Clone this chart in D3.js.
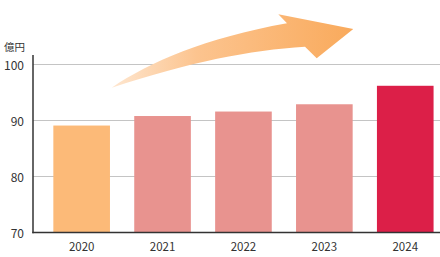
<!DOCTYPE html>
<html><head><meta charset="utf-8">
<script src="https://cdn.jsdelivr.net/npm/d3@7"></script>
<style>html,body{margin:0;padding:0;background:#fff;}svg{display:block;}</style>
</head><body>
<svg id="c" width="440" height="257"></svg>
<script>
const years = ["2020","2021","2022","2023","2024"];
const values = [89.1, 90.8, 91.6, 92.9, 96.2];
const barColors = ["#fcba78","#e8938f","#e8938f","#e8938f","#dc1f48"];
const yTicks = [70, 80, 90, 100];
const unitLabel = "億円";

const svg = d3.select("#c");
const font = "'Noto Sans CJK JP','Noto Sans',sans-serif";
const x = d3.scaleBand().domain(years).range([41.2, 445.7]).paddingInner(0.3).paddingOuter(0.15);
const y = d3.scaleLinear().domain([70, 100]).range([232.5, 64.5]);

// gridlines
svg.append("g").selectAll("line").data(yTicks.slice(1)).join("line")
  .attr("x1", 33).attr("x2", 440)
  .attr("y1", d => y(d)).attr("y2", d => y(d))
  .attr("stroke", "#c4c4c4").attr("stroke-width", 1);

// arrow decoration
const defs = svg.append("defs");
const g = defs.append("linearGradient").attr("id","ag")
  .attr("gradientUnits","userSpaceOnUse").attr("x1",112).attr("y1",0).attr("x2",353).attr("y2",0);
g.append("stop").attr("offset","0").attr("stop-color","#fee6cf");
g.append("stop").attr("offset","0.35").attr("stop-color","#fcc48f");
g.append("stop").attr("offset","1").attr("stop-color","#f9aa5c");
svg.append("path")
  .attr("d","M111.7,87.7 C150,62 205,38 287,23.3 L278.3,14.3 L353.3,29 L316.7,58.3 L305,46.7 C250,50 190,62 111.7,87.7 Z")
  .attr("fill","url(#ag)");

// bars
svg.append("g").selectAll("rect").data(years).join("rect")
  .attr("x", d => x(d)).attr("width", x.bandwidth())
  .attr("y", (d,i) => y(values[i])).attr("height", (d,i) => y(70) - y(values[i]))
  .attr("fill", (d,i) => barColors[i]);

// axes lines
svg.append("line").attr("x1",33).attr("x2",33).attr("y1",55).attr("y2",233.2)
  .attr("stroke","#333").attr("stroke-width",1.5);
svg.append("line").attr("x1",32.3).attr("x2",440).attr("y1",232.5).attr("y2",232.5)
  .attr("stroke","#333").attr("stroke-width",1.5);

// y tick labels
svg.append("g").selectAll("text").data(yTicks).join("text")
  .attr("x", 24).attr("y", d => y(d) + 1).attr("dy","0.35em")
  .attr("text-anchor","end").attr("font-family",font).attr("font-size",12)
  .attr("fill","#333").text(d => d);

// x tick labels
svg.append("g").selectAll("text").data(years).join("text")
  .attr("x", d => x(d) + x.bandwidth()/2).attr("y", 247).attr("dy","0.35em")
  .attr("text-anchor","middle").attr("font-family",font).attr("font-size",11.5)
  .attr("fill","#333").text(d => d);

// unit label
svg.append("text").attr("x",4).attr("y",47).attr("dy","0.35em")
  .attr("font-family",font).attr("font-size",10.5).attr("fill","#333").text(unitLabel);
</script>
</body></html>
